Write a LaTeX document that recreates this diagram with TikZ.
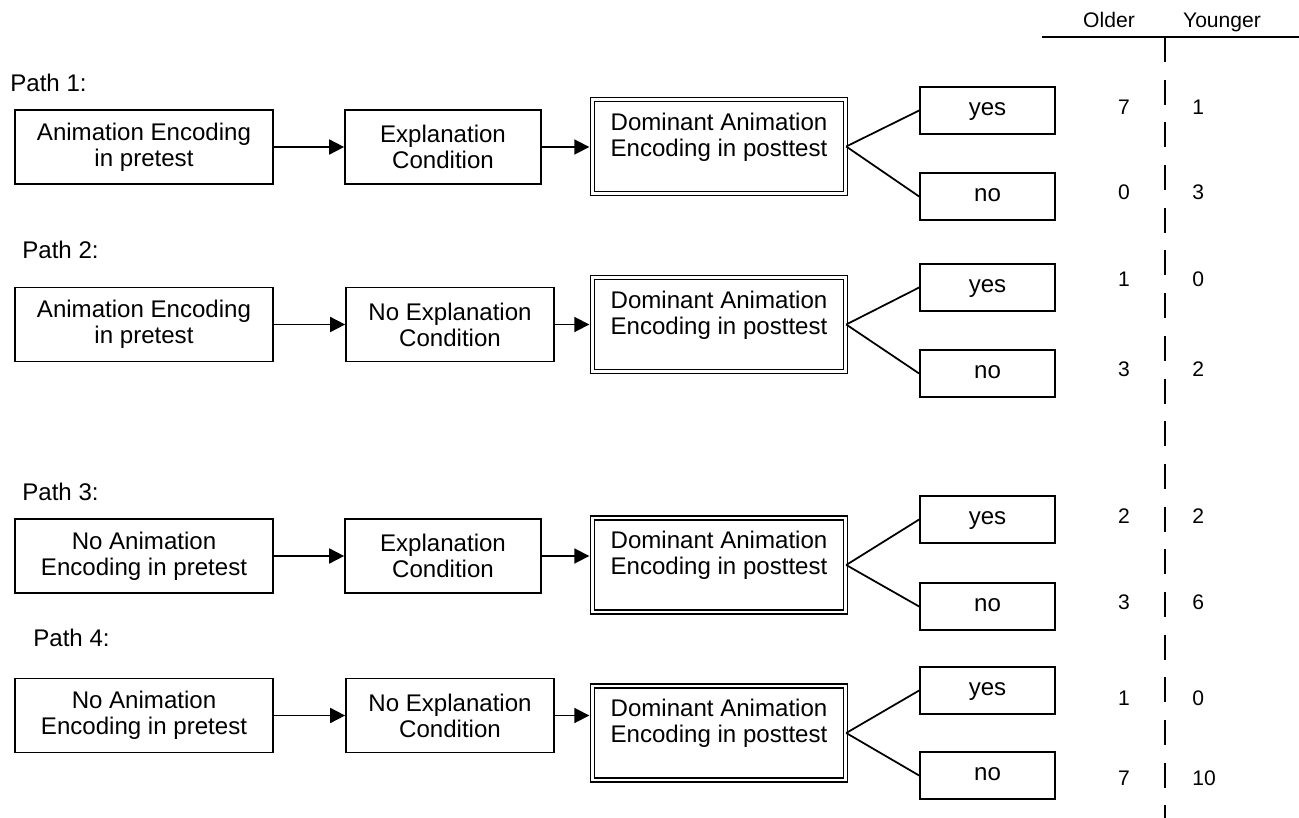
\documentclass[tikz,border=0pt]{standalone}
\usepackage{fontspec}
\setmainfont{Liberation Sans}
\usetikzlibrary{arrows.meta}
\begin{document}
\begin{tikzpicture}[x=0.02cm,y=-0.02cm,
  box/.style={draw, line width=1pt, align=center, inner sep=0pt, font=\fontsize{13.7}{14.8}\selectfont},
  boxA/.style={box, minimum width=5.16cm, minimum height=1.48cm},
  boxB/.style={box, minimum width=3.92cm, minimum height=1.48cm},
  boxC/.style={box, minimum width=4.16cm, minimum height=1.48cm},
  dblbox/.style={draw, double, line width=0.85pt, double distance=1.2pt, minimum width=5.06cm, minimum height=1.88cm, inner sep=0pt},
  dbltext/.style={align=center, inner sep=0pt, font=\fontsize{13.7}{14.8}\selectfont},
  yn/.style={box, minimum width=2.7cm, minimum height=0.94cm, text height=1ex, text depth=0pt},
  pathlabel/.style={anchor=west, inner sep=0pt, font=\fontsize{13.7}{14.8}\selectfont},
  numO/.style={inner sep=0pt, font=\fontsize{12}{14}\selectfont},
  numY/.style={numO, anchor=west},
  head/.style={numO, anchor=base},
  arr/.style={line width=1pt, -{Triangle[length=8.5pt,width=8.5pt]}},
  conn/.style={line width=1pt}
]
\useasboundingbox (0,0) rectangle (1299,818);

% header
\node[head] (older) at (1109,28) {Older};
\node[head] (younger) at (1222,28) {Younger};
\coordinate (hl) at (1042,37);
\coordinate (hr) at (1299,37);
\coordinate (vt) at (1165,37);
\coordinate (vb) at (1165,818);
\draw[line width=1pt] (hl) -- (hr);
\draw[line width=1pt, dash pattern=on 14.2pt off 10.1pt] (vt) -- (vb);

% Path 1
\node[pathlabel] (l1) at (10,83) {Path 1:};
\node[boxA] (a1) at (144,147) {Animation Encoding\\in pretest};
\node[boxB] (b1) at (443,147) {Explanation\\Condition};
\node[dblbox] (d1) at (719,146.5) {};
\node[dbltext] (t1) at ([yshift=5.4pt]d1.center) {Dominant Animation\\Encoding in posttest};
\node[yn] (y1) at (987.5,110.5) {yes};
\node[yn] (n1) at (987.5,196.5) {no};
\draw[arr] (a1) -- (b1);
\draw[arr, shorten >=1.4pt] (b1.east) -- (b1.east -| d1.west);
\draw[conn] (d1.east) -- (y1.west);
\draw[conn] (d1.east) -- (n1.west);
\node[numO] (o1y) at (1124,107) {7};
\node[numY] (g1y) at (1192,107) {1};
\node[numO] (o1n) at (1124,192) {0};
\node[numY] (g1n) at (1192,192) {3};

% Path 2
\node[pathlabel] (l2) at (22,250) {Path 2:};
\node[boxA] (a2) at (144,324.5) {Animation Encoding\\in pretest};
\node[boxC] (b2) at (450,324.5) {No Explanation\\Condition};
\node[dblbox] (d2) at (719,324.5) {};
\node[dbltext] (t2) at ([yshift=5.4pt]d2.center) {Dominant Animation\\Encoding in posttest};
\node[yn] (y2) at (987.5,287.5) {yes};
\node[yn] (n2) at (987.5,373.5) {no};
\draw[arr] (a2) -- (b2);
\draw[arr, shorten >=1.4pt] (b2.east) -- (b2.east -| d2.west);
\draw[conn] (d2.east) -- (y2.west);
\draw[conn] (d2.east) -- (n2.west);
\node[numO] (o2y) at (1124,279) {1};
\node[numY] (g2y) at (1192,279) {0};
\node[numO] (o2n) at (1124,369) {3};
\node[numY] (g2n) at (1192,369) {2};

% Path 3
\node[pathlabel] (l3) at (22,492) {Path 3:};
\node[boxA] (a3) at (144,556) {No Animation\\Encoding in pretest};
\node[boxB] (b3) at (443,556) {Explanation\\Condition};
\node[dblbox] (d3) at (719,565) {};
\node[dbltext] (t3) at ([yshift=5.4pt]d3.center) {Dominant Animation\\Encoding in posttest};
\node[yn] (y3) at (987.5,519.5) {yes};
\node[yn] (n3) at (987.5,606.5) {no};
\draw[arr] (a3) -- (b3);
\draw[arr, shorten >=1.4pt] (b3.east) -- (b3.east -| d3.west);
\draw[conn] (d3.east) -- (y3.west);
\draw[conn] (d3.east) -- (n3.west);
\node[numO] (o3y) at (1124,516) {2};
\node[numY] (g3y) at (1192,516) {2};
\node[numO] (o3n) at (1124,602) {3};
\node[numY] (g3n) at (1192,602) {6};

% Path 4
\node[pathlabel] (l4) at (33,638) {Path 4:};
\node[boxA] (a4) at (144,715.5) {No Animation\\Encoding in pretest};
\node[boxC] (b4) at (450,715.5) {No Explanation\\Condition};
\node[dblbox] (d4) at (719,733) {};
\node[dbltext] (t4) at ([yshift=5.4pt]d4.center) {Dominant Animation\\Encoding in posttest};
\node[yn] (y4) at (987.5,690.5) {yes};
\node[yn] (n4) at (987.5,775.5) {no};
\draw[arr] (a4) -- (b4);
\draw[arr, shorten >=1.4pt] (b4.east) -- (b4.east -| d4.west);
\draw[conn] (d4.east) -- (y4.west);
\draw[conn] (d4.east) -- (n4.west);
\node[numO] (o4y) at (1124,698) {1};
\node[numY] (g4y) at (1192,698) {0};
\node[numO] (o4n) at (1124,778) {7};
\node[numY] (g4n) at (1192,778) {10};
\end{tikzpicture}
\end{document}
